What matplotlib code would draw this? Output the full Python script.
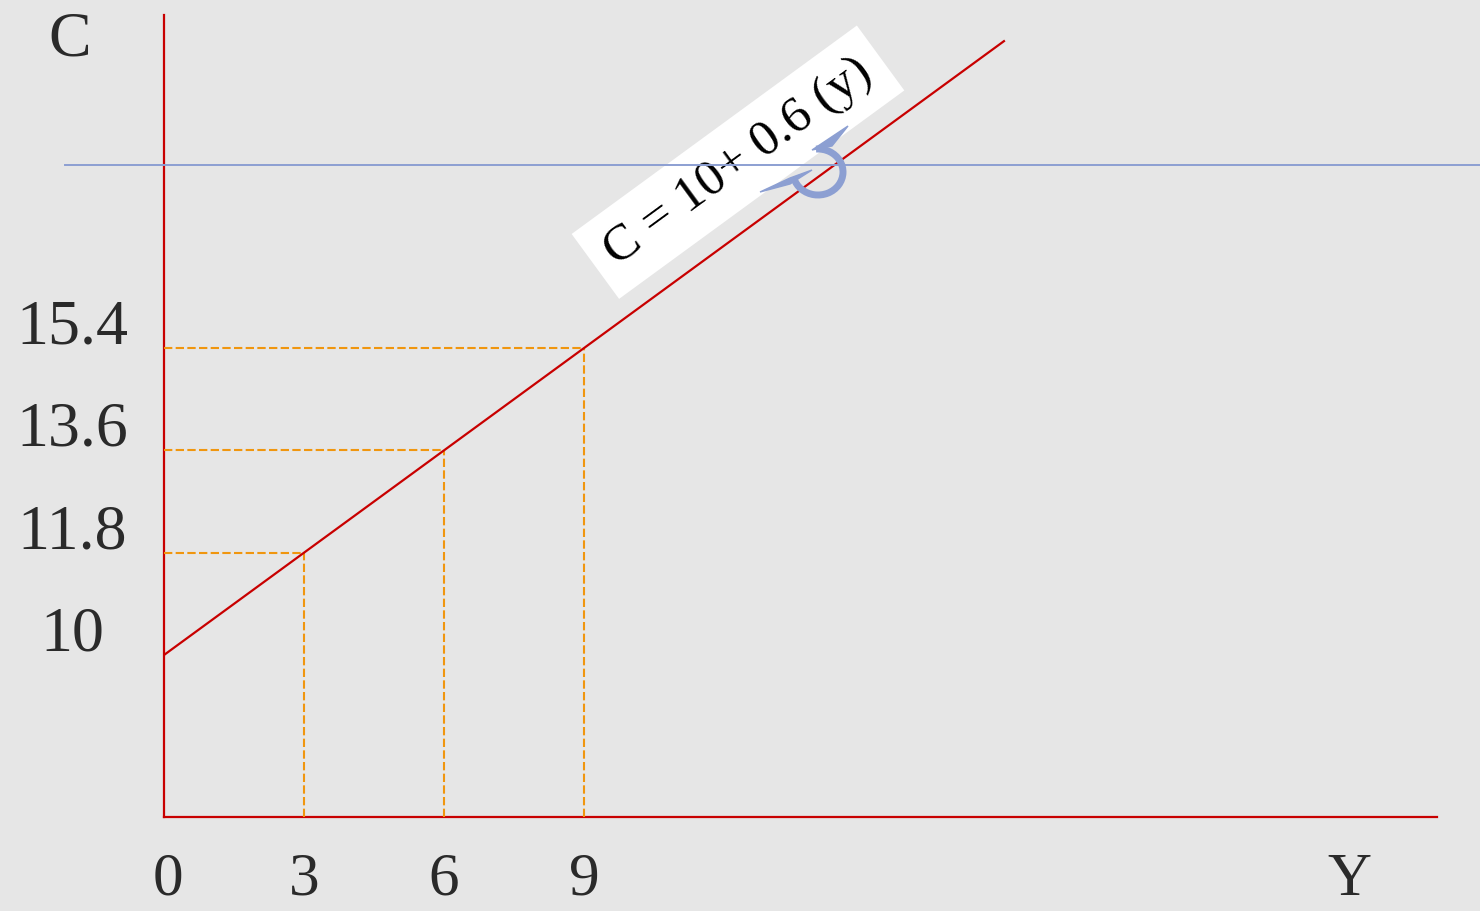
import numpy as np
import matplotlib.pyplot as plt
from matplotlib.lines import Line2D
from matplotlib.patches import Arc, Polygon

# consumption function C = a + b*Y
intercept = 10
mpc = 0.6
income = [3, 6, 9]
consumption = [11.8, 13.6, 15.4]
income_ticks = [0, 3, 6, 9]
consumption_ticks = [10, 11.8, 13.6, 15.4]
line_income = np.array([0, 18])
equation = 'C = 10+ 0.6 (y)'

W, H = 1480, 911
bg = '#e6e6e6'
red = '#c80000'
orange = '#f0960f'
blue = '#8c9fd2'
txt = '#2a2a2a'
font = 'Liberation Serif'


def px(x, y):
    # pixel position (top-left origin) -> figure fraction
    return x / W, 1 - y / H


fig = plt.figure(figsize=(W / 100, H / 100), dpi=100, facecolor=bg)
ax = fig.add_axes([164 / W, (H - 817) / H, 1273 / W, 802 / H])
ax.set_facecolor('none')
ax.set_xlim(0, 27.28)
ax.set_ylim(7.15, 21.26)
for s in ['top', 'right']:
    ax.spines[s].set_visible(False)
for s in ['left', 'bottom']:
    ax.spines[s].set_color(red)
    ax.spines[s].set_linewidth(1.6)
ax.set_xticks([])
ax.set_yticks([])

# main line
cons_line = intercept + mpc * line_income
ax.plot(line_income, cons_line, color=red, lw=1.6, zorder=4)

# dashed guides
y0 = ax.get_ylim()[0]
for y, c in zip(income, consumption):
    ax.plot([0, y], [c, c], color=orange, lw=1.5, ls=(0, (4, 1.6)), zorder=3)
    ax.plot([y, y], [y0, c], color=orange, lw=1.5, ls=(0, (4, 1.6)), zorder=3)

# tick labels
for v in income_ticks:
    ax.annotate(f'{v}', xy=(v, y0), xytext=(3 if v == 0 else 0, -56), textcoords='offset points',
                ha='center', va='baseline', fontsize=44, family=font, color=txt,
                annotation_clip=False)
for v in consumption_ticks:
    lab = f'{v:g}'
    ax.annotate(lab, xy=(0, v), xytext=(-66, 14), textcoords='offset points',
                ha='center', va='center', fontsize=46, family=font, color=txt,
                annotation_clip=False)

fig.text(*px(70, 40), 'C', ha='center', va='center', fontsize=46, family=font, color=txt)
fig.text(*px(1349, 895), 'Y', ha='center', va='baseline', fontsize=44, family=font, color=txt)

# decorative title rule with a flourish
fig.add_artist(Line2D([65 / W, 1], [px(0, 165)[1]] * 2, color=blue, lw=1.4, zorder=1))
arc = Arc((818, H - 172), 50, 46, theta1=-165, theta2=95, color=blue, lw=5,
          transform=None, zorder=2)
fig.add_artist(arc)
tail = np.array([[760, 192], [790, 178], [812, 170], [790, 184]], dtype=float)
top = np.array([[812, 150], [830, 138], [848, 126], [832, 146]], dtype=float)
for pts in [tail, top]:
    pts[:, 1] = H - pts[:, 1]
    fig.add_artist(Polygon(pts, closed=True, color=blue, transform=None, zorder=2))

# equation label along the line
p0 = ax.transData.transform((line_income[0], cons_line[0]))
p1 = ax.transData.transform((line_income[1], cons_line[1]))
angle = np.degrees(np.arctan2(p1[1] - p0[1], p1[0] - p0[0]))
ax.text(12.3, 18.67, equation, rotation=angle, rotation_mode='anchor',
        ha='center', va='center', fontsize=37, family=font, color='black',
        bbox=dict(boxstyle='square,pad=0.33', fc='white', ec='none'), zorder=6)

fig.savefig('out.png', dpi=100, facecolor=bg)
